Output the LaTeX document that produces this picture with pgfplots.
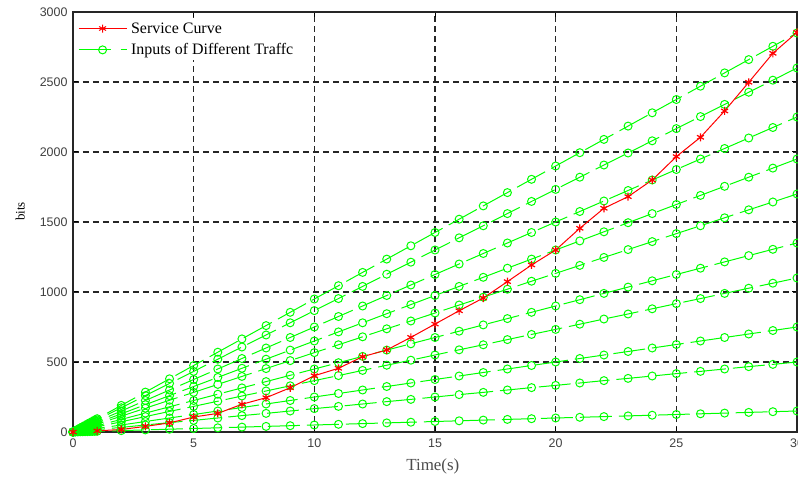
\documentclass[border=0pt]{standalone}
\usepackage{fontspec}
\setmainfont{Liberation Serif}
\newfontfamily\arial{Liberation Sans}
\usepackage{pgfplots}
\usepackage{pgfplotstable}
\pgfplotsset{compat=1.18}

% inputs of the different traffics (bits vs time)
\pgfplotstableread{
x    a     b     c     d     e     f     g     h    i    j
0    0     0     0     0     0     0     0     0    0    0
0.1  9.5   8.7   7.5   6.5   5.7   4.5   3.7   2.5  1.7  0.5
0.2  19    17.3  15    13    11.3  9     7.3   5    3.3  1
0.3  28.5  26    22.5  19.5  17    13.5  11    7.5  5    1.5
0.4  38    34.7  30    26    22.7  18    14.7  10   6.7  2
0.5  47.5  43.3  37.5  32.5  28.3  22.5  18.3  12.5 8.3  2.5
0.6  57    52    45    39    34    27    22    15   10   3
0.7  66.5  60.7  52.5  45.5  39.7  31.5  25.7  17.5 11.7 3.5
0.8  76    69.3  60    52    45.3  36    29.3  20   13.3 4
0.9  85.5  78    67.5  58.5  51    40.5  33    22.5 15   4.5
1    95    86.7  75    65    56.7  45    36.7  25   16.7 5
2    190   173   150   130   113   90    73    50   33   10
3    285   260   225   195   170   135   110   75   50   15
4    380   347   300   260   227   180   147   100  67   20
5    475   433   375   325   283   225   183   125  83   25
6    570   520   450   390   340   270   220   150  100  30
7    665   607   525   455   397   315   257   175  117  35
8    760   693   600   520   453   360   293   200  133  40
9    855   780   675   585   510   405   330   225  150  45
10   950   867   750   650   567   450   367   250  167  50
11   1045  953   825   715   623   495   403   275  183  55
12   1140  1040  900   780   680   540   440   300  200  60
13   1235  1127  975   845   737   585   477   325  217  65
14   1330  1213  1050  910   793   630   513   350  233  70
15   1425  1300  1125  975   850   675   550   375  250  75
16   1520  1387  1200  1040  907   720   587   400  267  80
17   1615  1473  1275  1105  963   765   623   425  283  85
18   1710  1560  1350  1170  1020  810   660   450  300  90
19   1805  1647  1425  1235  1077  855   697   475  317  95
20   1900  1733  1500  1300  1133  900   733   500  333  100
21   1995  1820  1575  1365  1190  945   770   525  350  105
22   2090  1907  1650  1430  1247  990   807   550  367  110
23   2185  1993  1725  1495  1303  1035  843   575  383  115
24   2280  2080  1800  1560  1360  1080  880   600  400  120
25   2375  2167  1875  1625  1417  1125  917   625  417  125
26   2470  2253  1950  1690  1473  1170  953   650  433  130
27   2565  2340  2025  1755  1530  1215  990   675  450  135
28   2660  2427  2100  1820  1587  1260  1027  700  467  140
29   2755  2513  2175  1885  1643  1305  1063  725  483  145
30   2850  2600  2250  1950  1700  1350  1100  750  500  150
}\inputs

% service curve
\pgfplotstableread{
x  y
0  0
1  8
2  18
3  40
4  65
5  107
6  133
7  198
8  245
9  316
10 402
11 455
12 538
13 586
14 676
15 771
16 866
17 957
18 1074
19 1193
20 1300
21 1455
22 1598
23 1681
24 1800
25 1967
26 2105
27 2293
28 2498
29 2705
30 2855
}\service

\begin{document}
\begin{tikzpicture}
\begin{axis}[
  scale only axis, width=724bp, height=420bp,
  xmin=0, xmax=30, ymin=0, ymax=3000,
  xtick={0,5,...,30}, ytick={0,500,...,3000},
  grid=major,
  grid style={black!85, line width=1.5bp, dash pattern=on 6bp off 4bp},
  axis line style={black!85, line width=1.6bp},
  tick style={black, line width=1bp},
  tick align=inside, major tick length=5bp,
  ticklabel style={font=\arial\fontsize{12.5}{12.5}\selectfont, text=black!75},
  xticklabel style={yshift=-3bp},
  yticklabel style={xshift=-2bp},
  /pgf/number format/assume math mode=true,
  /pgf/number format/1000 sep={},
  xlabel={Time(s)}, ylabel={bits},
  xlabel style={font=\fontsize{17}{17}\selectfont, text=black!70,
    at={(axis description cs:0.497,0)}, yshift=-34bp, anchor=center},
  ylabel style={font=\fontsize{13}{13}\selectfont,
    at={(axis description cs:-0.073,0.525)}, anchor=center},
  legend style={at={(axis description cs:0.004,0.985)}, anchor=north west,
    draw=none, fill=white, font=\fontsize{16}{16}\selectfont,
    row sep=5bp, inner sep=2bp,
    nodes={inner xsep=4bp}},
  legend cell align=left,
  legend image code/.code={\draw[mark repeat=2,mark phase=2,#1]
    plot coordinates {(0bp,0bp) (24bp,0bp) (48bp,0bp)};},
]
\addlegendimage{red, line width=1bp, mark=asterisk, mark size=4bp}
\addlegendentry{Service Curve}
\addlegendimage{green, line width=1bp, dash pattern=on 32bp off 10bp, mark=o, mark size=4bp, mark options={solid}}
\addlegendentry{Inputs of Different Traffc}

\pgfplotsinvokeforeach{a,b,c,d,e,f,g,h,i,j}{
  \addplot[forget plot, green, line width=1bp, dash pattern=on 32bp off 7bp,
    mark=o, mark size=4bp, mark options={solid}] table[x=x, y=#1] {\inputs};
}
\addplot[forget plot, red, line width=1bp, mark=asterisk, mark size=4bp,
  mark options={line width=1.2bp}] table[x=x, y=y] {\service};
\end{axis}
\pgfresetboundingbox
\path ([shift={(-73bp,-50bp)}]current axis.south west) rectangle
      ([shift={(1bp,12bp)}]current axis.north east);
\end{tikzpicture}
\end{document}
